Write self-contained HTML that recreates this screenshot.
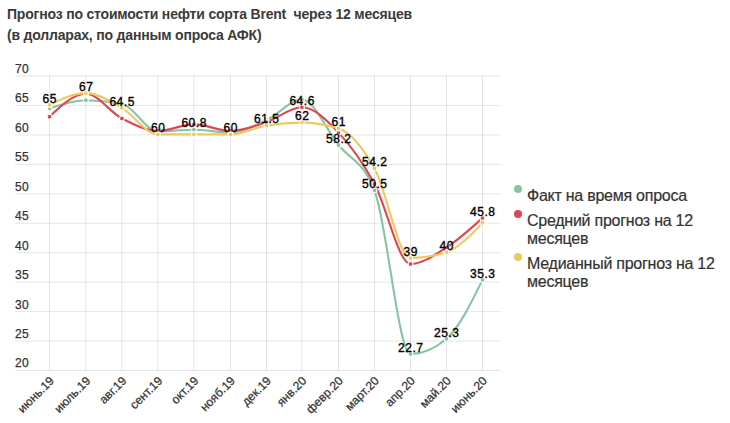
<!DOCTYPE html>
<html><head><meta charset="utf-8"><style>
html,body{margin:0;padding:0;background:#fff;width:730px;height:423px;overflow:hidden}
body{font-family:"Liberation Sans",sans-serif;position:relative}
.title{position:absolute;left:7px;top:4px;font-weight:bold;font-size:14px;letter-spacing:-0.19px;line-height:21px;color:#3a3a3a;white-space:nowrap}
svg{position:absolute;left:0;top:0}
.yl{font-size:12px;fill:#333;stroke:#333;stroke-width:0.25px;letter-spacing:0.4px}
.xl{font-size:12px;fill:#333;stroke:#333;stroke-width:0.25px;letter-spacing:0px}
.dl{font-size:12px;fill:#000;stroke:#000;stroke-width:0.35px;letter-spacing:0.55px}
.legend{position:absolute;left:527px;top:187px;font-size:16px;line-height:18px;color:#333;letter-spacing:-0.25px;-webkit-text-stroke:0.2px #333}
.li{position:relative;margin-bottom:7px}
.dot{position:absolute;left:-13px;top:-1.7px;width:8px;height:8px;border-radius:50%}
</style></head><body>
<div class="title">Прогноз по стоимости нефти сорта Brent&nbsp; через 12 месяцев<br>(в долларах, по данным опроса АФК)</div>
<svg width="730" height="423" viewBox="0 0 730 423">
<line x1="15" x2="501" y1="76.00" y2="76.00" stroke="#000" stroke-opacity="0.1" stroke-width="1"/>
<line x1="15" x2="501" y1="105.45" y2="105.45" stroke="#000" stroke-opacity="0.1" stroke-width="1"/>
<line x1="15" x2="501" y1="134.90" y2="134.90" stroke="#000" stroke-opacity="0.1" stroke-width="1"/>
<line x1="15" x2="501" y1="164.35" y2="164.35" stroke="#000" stroke-opacity="0.1" stroke-width="1"/>
<line x1="15" x2="501" y1="193.80" y2="193.80" stroke="#000" stroke-opacity="0.1" stroke-width="1"/>
<line x1="15" x2="501" y1="223.25" y2="223.25" stroke="#000" stroke-opacity="0.1" stroke-width="1"/>
<line x1="15" x2="501" y1="252.70" y2="252.70" stroke="#000" stroke-opacity="0.1" stroke-width="1"/>
<line x1="15" x2="501" y1="282.15" y2="282.15" stroke="#000" stroke-opacity="0.1" stroke-width="1"/>
<line x1="15" x2="501" y1="311.60" y2="311.60" stroke="#000" stroke-opacity="0.1" stroke-width="1"/>
<line x1="15" x2="501" y1="341.05" y2="341.05" stroke="#000" stroke-opacity="0.1" stroke-width="1"/>
<line x1="15" x2="501" y1="370.50" y2="370.50" stroke="#000" stroke-opacity="0.1" stroke-width="1"/>
<line x1="49.5" x2="49.5" y1="76" y2="370.5" stroke="#000" stroke-opacity="0.1" stroke-width="1"/>
<line x1="85.9" x2="85.9" y1="76" y2="370.5" stroke="#000" stroke-opacity="0.1" stroke-width="1"/>
<line x1="121.9" x2="121.9" y1="76" y2="370.5" stroke="#000" stroke-opacity="0.1" stroke-width="1"/>
<line x1="157.9" x2="157.9" y1="76" y2="370.5" stroke="#000" stroke-opacity="0.1" stroke-width="1"/>
<line x1="193.9" x2="193.9" y1="76" y2="370.5" stroke="#000" stroke-opacity="0.1" stroke-width="1"/>
<line x1="230.5" x2="230.5" y1="76" y2="370.5" stroke="#000" stroke-opacity="0.1" stroke-width="1"/>
<line x1="266.5" x2="266.5" y1="76" y2="370.5" stroke="#000" stroke-opacity="0.1" stroke-width="1"/>
<line x1="301.9" x2="301.9" y1="76" y2="370.5" stroke="#000" stroke-opacity="0.1" stroke-width="1"/>
<line x1="338.5" x2="338.5" y1="76" y2="370.5" stroke="#000" stroke-opacity="0.1" stroke-width="1"/>
<line x1="374.5" x2="374.5" y1="76" y2="370.5" stroke="#000" stroke-opacity="0.1" stroke-width="1"/>
<line x1="410.5" x2="410.5" y1="76" y2="370.5" stroke="#000" stroke-opacity="0.1" stroke-width="1"/>
<line x1="446.5" x2="446.5" y1="76" y2="370.5" stroke="#000" stroke-opacity="0.1" stroke-width="1"/>
<line x1="482.5" x2="482.5" y1="76" y2="370.5" stroke="#000" stroke-opacity="0.1" stroke-width="1"/>
<text x="15" y="72.9" class="yl">70</text>
<text x="15" y="102.4" class="yl">65</text>
<text x="15" y="131.8" class="yl">60</text>
<text x="15" y="161.2" class="yl">55</text>
<text x="15" y="190.7" class="yl">50</text>
<text x="15" y="220.2" class="yl">45</text>
<text x="15" y="249.6" class="yl">40</text>
<text x="15" y="279.0" class="yl">35</text>
<text x="15" y="308.5" class="yl">30</text>
<text x="15" y="337.9" class="yl">25</text>
<text x="15" y="367.4" class="yl">20</text>
<text class="xl" transform="translate(48.9,375.5) rotate(-45)" text-anchor="end" dy="0.7em">июнь.19</text>
<text class="xl" transform="translate(85.3,375.5) rotate(-45)" text-anchor="end" dy="0.7em">июль.19</text>
<text class="xl" transform="translate(121.3,375.5) rotate(-45)" text-anchor="end" dy="0.7em">авг.19</text>
<text class="xl" transform="translate(157.3,375.5) rotate(-45)" text-anchor="end" dy="0.7em">сент.19</text>
<text class="xl" transform="translate(193.3,375.5) rotate(-45)" text-anchor="end" dy="0.7em">окт.19</text>
<text class="xl" transform="translate(229.9,375.5) rotate(-45)" text-anchor="end" dy="0.7em">нояб.19</text>
<text class="xl" transform="translate(265.9,375.5) rotate(-45)" text-anchor="end" dy="0.7em">дек.19</text>
<text class="xl" transform="translate(301.3,375.5) rotate(-45)" text-anchor="end" dy="0.7em">янв.20</text>
<text class="xl" transform="translate(337.9,375.5) rotate(-45)" text-anchor="end" dy="0.7em">февр.20</text>
<text class="xl" transform="translate(373.9,375.5) rotate(-45)" text-anchor="end" dy="0.7em">март.20</text>
<text class="xl" transform="translate(409.9,375.5) rotate(-45)" text-anchor="end" dy="0.7em">апр.20</text>
<text class="xl" transform="translate(445.9,375.5) rotate(-45)" text-anchor="end" dy="0.7em">май.20</text>
<text class="xl" transform="translate(481.9,375.5) rotate(-45)" text-anchor="end" dy="0.7em">июнь.20</text>
<path d="M49.50,108.48C61.63,104.36,73.77,100.24,85.90,100.24C97.90,100.24,109.90,101.42,121.90,103.77C133.90,106.13,145.90,131.45,157.90,131.45C169.90,131.45,181.90,129.69,193.90,129.69C206.10,129.69,218.30,132.63,230.50,132.63C242.50,132.63,254.50,125.83,266.50,120.26C278.30,114.79,290.10,99.65,301.90,99.65C314.10,99.65,326.30,129.76,338.50,145.00C350.50,160.00,362.50,160.12,374.50,190.35C386.50,220.59,398.50,354.10,410.50,354.10C422.50,354.10,434.50,348.99,446.50,338.78C458.50,328.57,470.50,304.23,482.50,279.88" fill="none" stroke="#87c4a1" stroke-width="2.1" stroke-linejoin="round" stroke-linecap="round"/>
<path d="M49.50,116.73C61.63,105.24,73.77,93.76,85.90,93.76C97.90,93.76,109.90,112.31,121.90,118.50C133.90,124.68,145.90,130.87,157.90,130.87C169.90,130.87,181.90,124.39,193.90,124.39C206.10,124.39,218.30,130.87,230.50,130.87C242.50,130.87,254.50,126.01,266.50,122.03C278.30,118.12,290.10,107.31,301.90,107.31C314.10,107.31,326.30,119.69,338.50,132.63C350.50,145.36,362.50,161.98,374.50,183.88C386.50,205.77,398.50,263.98,410.50,263.98C422.50,263.98,434.50,255.15,446.50,247.49C458.50,239.83,470.50,228.93,482.50,218.04" fill="none" stroke="#de4751" stroke-width="2.1" stroke-linejoin="round" stroke-linecap="round"/>
<path d="M49.50,104.95C61.63,99.06,73.77,93.17,85.90,93.17C97.90,93.17,109.90,101.02,121.90,107.89C133.90,114.77,145.90,134.40,157.90,134.40C169.90,134.40,181.90,134.40,193.90,134.40C206.10,134.40,218.30,134.40,230.50,134.40C242.50,134.40,254.50,127.53,266.50,125.56C278.30,123.63,290.10,122.62,301.90,122.62C314.10,122.62,326.30,124.58,338.50,128.51C350.50,132.37,362.50,146.97,374.50,168.56C386.50,190.16,398.50,258.09,410.50,258.09C422.50,258.09,434.50,256.13,446.50,252.20C458.50,248.27,470.50,235.51,482.50,222.75" fill="none" stroke="#efc860" stroke-width="2.1" stroke-linejoin="round" stroke-linecap="round"/>
<circle cx="49.50" cy="108.48" r="2.45" fill="#87c4a1" stroke="#fff" stroke-width="1.1"/>
<circle cx="85.90" cy="100.24" r="2.45" fill="#87c4a1" stroke="#fff" stroke-width="1.1"/>
<circle cx="121.90" cy="103.77" r="2.45" fill="#87c4a1" stroke="#fff" stroke-width="1.1"/>
<circle cx="157.90" cy="131.45" r="2.45" fill="#87c4a1" stroke="#fff" stroke-width="1.1"/>
<circle cx="193.90" cy="129.69" r="2.45" fill="#87c4a1" stroke="#fff" stroke-width="1.1"/>
<circle cx="230.50" cy="132.63" r="2.45" fill="#87c4a1" stroke="#fff" stroke-width="1.1"/>
<circle cx="266.50" cy="120.26" r="2.45" fill="#87c4a1" stroke="#fff" stroke-width="1.1"/>
<circle cx="301.90" cy="99.65" r="2.45" fill="#87c4a1" stroke="#fff" stroke-width="1.1"/>
<circle cx="338.50" cy="145.00" r="2.45" fill="#87c4a1" stroke="#fff" stroke-width="1.1"/>
<circle cx="374.50" cy="190.35" r="2.45" fill="#87c4a1" stroke="#fff" stroke-width="1.1"/>
<circle cx="410.50" cy="354.10" r="2.45" fill="#87c4a1" stroke="#fff" stroke-width="1.1"/>
<circle cx="446.50" cy="338.78" r="2.45" fill="#87c4a1" stroke="#fff" stroke-width="1.1"/>
<circle cx="482.50" cy="279.88" r="2.45" fill="#87c4a1" stroke="#fff" stroke-width="1.1"/>
<circle cx="49.50" cy="116.73" r="2.45" fill="#de4751" stroke="#fff" stroke-width="1.1"/>
<circle cx="85.90" cy="93.76" r="2.45" fill="#de4751" stroke="#fff" stroke-width="1.1"/>
<circle cx="121.90" cy="118.50" r="2.45" fill="#de4751" stroke="#fff" stroke-width="1.1"/>
<circle cx="157.90" cy="130.87" r="2.45" fill="#de4751" stroke="#fff" stroke-width="1.1"/>
<circle cx="193.90" cy="124.39" r="2.45" fill="#de4751" stroke="#fff" stroke-width="1.1"/>
<circle cx="230.50" cy="130.87" r="2.45" fill="#de4751" stroke="#fff" stroke-width="1.1"/>
<circle cx="266.50" cy="122.03" r="2.45" fill="#de4751" stroke="#fff" stroke-width="1.1"/>
<circle cx="301.90" cy="107.31" r="2.45" fill="#de4751" stroke="#fff" stroke-width="1.1"/>
<circle cx="338.50" cy="132.63" r="2.45" fill="#de4751" stroke="#fff" stroke-width="1.1"/>
<circle cx="374.50" cy="183.88" r="2.45" fill="#de4751" stroke="#fff" stroke-width="1.1"/>
<circle cx="410.50" cy="263.98" r="2.45" fill="#de4751" stroke="#fff" stroke-width="1.1"/>
<circle cx="446.50" cy="247.49" r="2.45" fill="#de4751" stroke="#fff" stroke-width="1.1"/>
<circle cx="482.50" cy="218.04" r="2.45" fill="#de4751" stroke="#fff" stroke-width="1.1"/>
<circle cx="49.50" cy="104.95" r="2.45" fill="#efc860" stroke="#fff" stroke-width="1.1"/>
<circle cx="85.90" cy="93.17" r="2.45" fill="#efc860" stroke="#fff" stroke-width="1.1"/>
<circle cx="121.90" cy="107.89" r="2.45" fill="#efc860" stroke="#fff" stroke-width="1.1"/>
<circle cx="157.90" cy="134.40" r="2.45" fill="#efc860" stroke="#fff" stroke-width="1.1"/>
<circle cx="193.90" cy="134.40" r="2.45" fill="#efc860" stroke="#fff" stroke-width="1.1"/>
<circle cx="230.50" cy="134.40" r="2.45" fill="#efc860" stroke="#fff" stroke-width="1.1"/>
<circle cx="266.50" cy="125.56" r="2.45" fill="#efc860" stroke="#fff" stroke-width="1.1"/>
<circle cx="301.90" cy="122.62" r="2.45" fill="#efc860" stroke="#fff" stroke-width="1.1"/>
<circle cx="338.50" cy="128.51" r="2.45" fill="#efc860" stroke="#fff" stroke-width="1.1"/>
<circle cx="374.50" cy="168.56" r="2.45" fill="#efc860" stroke="#fff" stroke-width="1.1"/>
<circle cx="410.50" cy="258.09" r="2.45" fill="#efc860" stroke="#fff" stroke-width="1.1"/>
<circle cx="446.50" cy="252.20" r="2.45" fill="#efc860" stroke="#fff" stroke-width="1.1"/>
<circle cx="482.50" cy="222.75" r="2.45" fill="#efc860" stroke="#fff" stroke-width="1.1"/>
<text class="dl" x="49.78" y="102.75" text-anchor="middle">65</text>
<text class="dl" x="86.18" y="90.97" text-anchor="middle">67</text>
<text class="dl" x="122.18" y="105.69" text-anchor="middle">64.5</text>
<text class="dl" x="158.18" y="132.20" text-anchor="middle">60</text>
<text class="dl" x="194.18" y="127.49" text-anchor="middle">60.8</text>
<text class="dl" x="230.78" y="132.20" text-anchor="middle">60</text>
<text class="dl" x="266.78" y="123.36" text-anchor="middle">61.5</text>
<text class="dl" x="302.18" y="105.11" text-anchor="middle">64.6</text>
<text class="dl" x="302.18" y="120.42" text-anchor="middle">62</text>
<text class="dl" x="338.78" y="126.31" text-anchor="middle">61</text>
<text class="dl" x="338.78" y="142.80" text-anchor="middle">58.2</text>
<text class="dl" x="374.78" y="166.36" text-anchor="middle">54.2</text>
<text class="dl" x="374.78" y="188.16" text-anchor="middle">50.5</text>
<text class="dl" x="410.78" y="255.89" text-anchor="middle">39</text>
<text class="dl" x="410.78" y="351.90" text-anchor="middle">22.7</text>
<text class="dl" x="446.78" y="250.00" text-anchor="middle">40</text>
<text class="dl" x="446.78" y="336.58" text-anchor="middle">25.3</text>
<text class="dl" x="482.78" y="215.84" text-anchor="middle">45.8</text>
<text class="dl" x="482.78" y="277.68" text-anchor="middle">35.3</text>
</svg>
<div class="legend">
<div class="li"><span class="dot" style="background:#87c4a1"></span>Факт на время опроса</div>
<div class="li"><span class="dot" style="background:#de4751"></span>Средний прогноз на 12<br>месяцев</div>
<div class="li"><span class="dot" style="background:#efc860"></span>Медианный прогноз на 12<br>месяцев</div>
</div>
</body></html>
